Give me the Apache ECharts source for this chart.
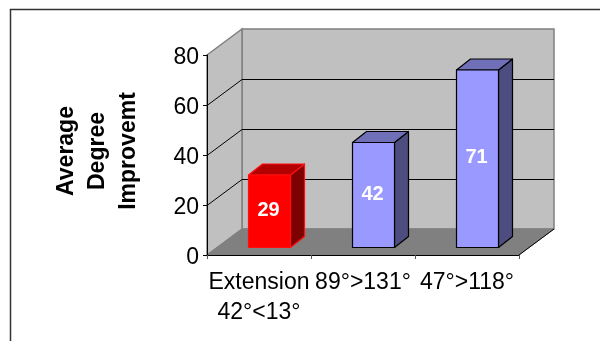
<!DOCTYPE html>
<html>
<head>
<meta charset="utf-8">
<style>html,body{margin:0;padding:0;background:#fff}#c{width:600px;height:341px}</style>
<script src="https://cdn.jsdelivr.net/npm/echarts@6/dist/echarts.min.js"></script>
</head>
<body>
<div id="c"></div>
<script>
const categories = ['Extension\n42°<13°', '89°>131°', '47°>118°'];
const improvement = [29, 42, 71];
const yTicks = [0, 20, 40, 60, 80];
const yAxisTitle = 'Average\nDegree\nImprovemt';

const FONT = '"Liberation Sans", Arial, sans-serif';
const WALL_DX = 35, WALL_DY = -26;
const BAR_W = 42, BAR_SHIFT = 10.5, BAR_LIFT = -7.5, BAR_DX = 14, BAR_DY = -11;
const barPalette = [
  { front: '#FF0000', top: '#B30000', side: '#7F0000', line: '#FF1010' },
  { front: '#9999FF', top: '#7070B8', side: '#4D4D80', line: '#000000' },
  { front: '#9999FF', top: '#7070B8', side: '#4D4D80', line: '#000000' }
];

const chart = echarts.init(document.getElementById('c'), null, { renderer: 'canvas' });

function renderWalls(params) {
  const c = params.coordSys;
  const L = c.x, R = c.x + c.width, T = c.y, B = c.y + c.height;
  const wall = { fill: '#C0C0C0', stroke: '#808080', lineWidth: 1.5 };
  return { type: 'group', children: [
    { type: 'polygon', shape: { points: [[L + WALL_DX, T + WALL_DY], [R + WALL_DX, T + WALL_DY], [R + WALL_DX, B + WALL_DY], [L + WALL_DX, B + WALL_DY]] }, style: wall },
    { type: 'polygon', shape: { points: [[L, T], [L + WALL_DX, T + WALL_DY], [L + WALL_DX, B + WALL_DY], [L, B]] }, style: wall },
    { type: 'polygon', shape: { points: [[L, B], [L + WALL_DX, B + WALL_DY], [R + WALL_DX, B + WALL_DY], [R, B]] }, style: { fill: '#808080', stroke: '#808080', lineWidth: 1 } },
    { type: 'line', shape: { x1: R, y1: B, x2: R + WALL_DX, y2: B + WALL_DY }, style: { stroke: '#000', lineWidth: 1 } }
  ] };
}

function renderGrid(params, api) {
  const c = params.coordSys;
  const y = Math.round(api.coord([0, api.value(1)])[1]) + 0.5;
  const L = c.x, R = c.x + c.width;
  return { type: 'polyline', shape: { points: [[L, y], [L + WALL_DX, y + WALL_DY], [R + WALL_DX, y + WALL_DY]] }, style: { stroke: '#000', lineWidth: 1, fill: null } };
}

function renderBar(params, api) {
  const p = barPalette[params.dataIndex];
  const v = api.coord([api.value(0), api.value(1)]);
  const o = api.coord([api.value(0), 0]);
  const x0 = v[0] + BAR_SHIFT - BAR_W / 2, x1 = x0 + BAR_W;
  const yT = v[1] + BAR_LIFT, yB = o[1] + BAR_LIFT;
  const sty = f => ({ fill: f, stroke: p.line, lineWidth: 1.2, lineJoin: 'round' });
  return { type: 'group', children: [
    { type: 'polygon', shape: { points: [[x1, yT], [x1 + BAR_DX, yT + BAR_DY], [x1 + BAR_DX, yB + BAR_DY], [x1, yB]] }, style: sty(p.side) },
    { type: 'polygon', shape: { points: [[x0, yT], [x0 + BAR_DX, yT + BAR_DY], [x1 + BAR_DX, yT + BAR_DY], [x1, yT]] }, style: sty(p.top) },
    { type: 'rect', shape: { x: x0, y: yT, width: BAR_W, height: yB - yT }, style: sty(p.front) },
    { type: 'text', style: { x: (x0 + x1) / 2 - 1, y: (yT + yB) / 2 - 1, text: String(api.value(1)), fill: '#fff', font: 'bold 20px ' + FONT, align: 'center', verticalAlign: 'middle' } }
  ] };
}

chart.setOption({
  animation: false,
  backgroundColor: '#fff',
  graphic: [{ type: 'polyline', silent: true, shape: { points: [[10.5, 341], [10.5, 9.5], [600, 9.5]] }, style: { stroke: '#333', lineWidth: 1.5, fill: null } }],
  grid: { left: 207, top: 55, width: 312, height: 200, containLabel: false, outerBoundsMode: 'none' },
  xAxis: {
    type: 'category', data: categories, z: 10,
    axisLine: { show: true, lineStyle: { color: '#000', width: 1 } },
    axisTick: { show: true, length: 4, alignWithLabel: false, lineStyle: { color: '#555' } },
    axisLabel: { interval: 0, margin: 13, color: '#000', fontFamily: FONT, fontSize: 23, lineHeight: 30, verticalAlign: 'top', hideOverlap: false }
  },
  yAxis: {
    type: 'value', min: 0, max: 80, interval: 20, z: 10,
    name: yAxisTitle, nameLocation: 'middle', nameRotate: 90, nameGap: 63,
    nameTextStyle: { color: '#000', fontFamily: FONT, fontSize: 23, fontWeight: 'bold', lineHeight: 31, padding: [0, 0, 0, 8] },
    splitLine: { show: false },
    axisLine: { show: true, lineStyle: { color: '#000', width: 1 } },
    axisTick: { show: true, length: 4, lineStyle: { color: '#000' } },
    axisLabel: { margin: 8, color: '#000', fontFamily: FONT, fontSize: 23, verticalAlign: 'top', lineHeight: 1, padding: [2, 0, 0, 0], customValues: yTicks }
  },
  series: [
    { type: 'custom', name: 'walls', z: 1, silent: true, data: [[0, 0]], renderItem: renderWalls },
    { type: 'custom', name: 'gridlines', z: 2, silent: true, data: yTicks.slice(1, -1).map(t => [0, t]), renderItem: renderGrid },
    { type: 'custom', name: 'Average Degree Improvement', z: 3, silent: true, data: improvement.map((v, i) => [i, v]), renderItem: renderBar }
  ]
});
</script>
</body>
</html>
